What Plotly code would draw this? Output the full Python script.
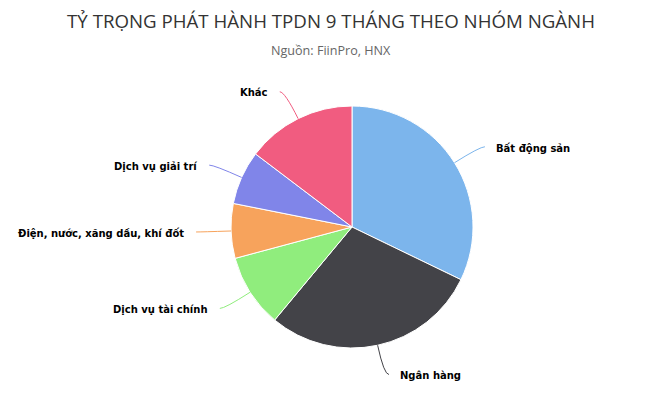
import math
import plotly.graph_objects as go

categories = ["Bất động sản", "Ngân hàng", "Dịch vụ tài chính",
              "Điện, nước, xăng dầu, khí đốt", "Dịch vụ giải trí", "Khác"]
shares = [32.2, 28.9, 9.8, 7.3, 7.2, 14.7]
colors = ["#7cb5ec", "#434348", "#90ed7d", "#f7a35c", "#8085e9", "#f15c80"]

title_text = "TỶ TRỌNG PHÁT HÀNH TPDN 9 THÁNG THEO NHÓM NGÀNH"
subtitle_text = "Nguồn: FiinPro, HNX"

W, H = 650, 416
CX, CY, R = 352, 227, 121
DIST = 30


def px(x):
    return x / W


def py(y):
    return 1 - y / H


fig = go.Figure()
fig.add_trace(go.Pie(
    labels=categories, values=shares, sort=False, direction="clockwise",
    rotation=0, textinfo="none", hoverinfo="label+percent",
    marker=dict(colors=colors, line=dict(color="#ffffff", width=1)),
    domain=dict(x=[px(CX - R), px(CX + R)], y=[py(CY + R), py(CY - R)]),
    showlegend=False,
))

total = sum(shares)
cum = 0.0
shapes = []
annotations = []
for name, v, c in zip(categories, shares, colors):
    mid = (cum + v / 2) / total * 2 * math.pi
    cum += v
    s, co = math.sin(mid), -math.cos(mid)
    ex, ey = CX + R * s, CY + R * co
    ax, ay = CX + (R + DIST) * s, CY + (R + DIST) * co
    right = s >= 0
    lx = ax + (5 if right else -5)
    tx = lx + (9 if right else -10)
    path = (f"M {px(ex)} {py(ey)} Q {px(ax)} {py(ay)} {px(lx)} {py(ay)}")
    shapes.append(dict(type="path", xref="paper", yref="paper", path=path,
                       line=dict(color=c, width=1)))
    annotations.append(dict(
        x=px(tx), y=py(ay + 1), xref="paper", yref="paper", text=name,
        showarrow=False, xanchor="left" if right else "right", yanchor="middle",
        font=dict(family="DejaVu Sans", size=10, color="#000000", weight="bold"),
    ))

annotations.append(dict(
    x=px(331), y=py(50), xref="paper", yref="paper", text=subtitle_text,
    showarrow=False, xanchor="center", yanchor="middle",
    font=dict(family="Open Sans", size=12.6, color="#666666"),
))

fig.update_layout(
    width=W, height=H,
    margin=dict(l=0, r=0, t=0, b=0),
    paper_bgcolor="#ffffff", plot_bgcolor="#ffffff",
    title=dict(text=title_text, x=px(331), y=py(21), xanchor="center",
               yanchor="middle",
               font=dict(family="Open Sans", size=18.7, color="#333333")),
    shapes=shapes, annotations=annotations,
)

fig.write_html("out.html",
               config={"displayModeBar": False},
               post_script="document.body.style.margin='0';"
                           "document.body.style.padding='0';")
